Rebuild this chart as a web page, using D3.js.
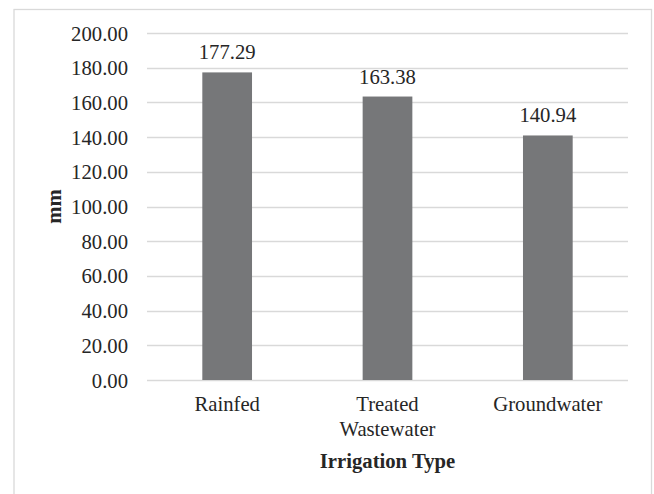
<!DOCTYPE html>
<html>
<head>
<meta charset="utf-8">
<script src="https://cdn.jsdelivr.net/npm/d3@7/dist/d3.min.js"></script>
<style>
  html, body { margin: 0; padding: 0; background: #fff; }
  svg { display: block; }
  text { font-family: "Liberation Serif", "Times New Roman", serif; fill: #262626; }
</style>
</head>
<body>
<svg id="chart" width="654" height="494"></svg>
<script>
// Irrigation types and their values (mm)
const categories = ["Rainfed", "Treated Wastewater", "Groundwater"];
const categoryLines = [["Rainfed"], ["Treated", "Wastewater"], ["Groundwater"]];
const values = [177.29, 163.38, 140.94];
const yTicks = [0, 20, 40, 60, 80, 100, 120, 140, 160, 180, 200];

const svg = d3.select("#chart");
const margin = { left: 147, right: 26, top: 33, bottom: 114 };
const W = 654, H = 494;
const fontSize = "20.7px";

// outer chart border
svg.append("rect")
  .attr("x", 14).attr("y", 9.5)
  .attr("width", 637.5).attr("height", 500)
  .attr("fill", "none").attr("stroke", "#d9d9d9").attr("stroke-width", 1.3);

const x = d3.scaleBand()
  .domain(categories)
  .range([margin.left, W - margin.right])
  .paddingInner(0.69).paddingOuter(0.345);

const y = d3.scaleLinear()
  .domain([0, 200])
  .range([H - margin.bottom, margin.top]);

// horizontal gridlines
svg.append("g")
  .selectAll("line")
  .data(yTicks)
  .join("line")
  .attr("x1", margin.left).attr("x2", W - margin.right)
  .attr("y1", d => Math.round(y(d)) + 0.5).attr("y2", d => Math.round(y(d)) + 0.5)
  .attr("stroke", "#d9d9d9").attr("stroke-width", 1.3);

// y axis labels
const yAxis = d3.axisLeft(y).tickValues(yTicks).tickFormat(d3.format(".2f")).tickSize(0).tickPadding(19);
const gy = svg.append("g").attr("transform", `translate(${margin.left},0)`).call(yAxis);
gy.select(".domain").remove();
gy.selectAll("text")
  .style("font-family", "'Liberation Serif', 'Times New Roman', serif")
  .style("font-size", fontSize).attr("fill", "#262626").attr("dy", "0.34em");

// bars
svg.append("g")
  .selectAll("rect")
  .data(values)
  .join("rect")
  .attr("x", (d, i) => x(categories[i]))
  .attr("y", d => y(d))
  .attr("width", x.bandwidth())
  .attr("height", d => y(0) - y(d))
  .attr("fill", "#767779");

// value labels
svg.append("g")
  .selectAll("text")
  .data(values)
  .join("text")
  .attr("x", (d, i) => x(categories[i]) + x.bandwidth() / 2)
  .attr("y", d => y(d) - 13)
  .attr("text-anchor", "middle")
  .style("font-size", fontSize)
  .text(d => d3.format(".2f")(d));

// category labels (wrapped)
const cat = svg.append("g")
  .selectAll("text")
  .data(categoryLines)
  .join("text")
  .attr("text-anchor", "middle")
  .style("font-size", fontSize)
  .attr("transform", (d, i) => `translate(${x(categories[i]) + x.bandwidth() / 2},${y(0) + 31})`);
cat.selectAll("tspan")
  .data(d => d)
  .join("tspan")
  .attr("x", 0)
  .attr("dy", (d, j) => j === 0 ? 0 : 25)
  .text(d => d);

// axis titles
svg.append("text")
  .attr("x", (margin.left + W - margin.right) / 2)
  .attr("y", 468)
  .attr("text-anchor", "middle")
  .style("font-size", fontSize).style("font-weight", "bold")
  .text("Irrigation Type");

svg.append("text")
  .attr("transform", `translate(61,${(margin.top + H - margin.bottom) / 2}) rotate(-90)`)
  .attr("text-anchor", "middle")
  .style("font-size", fontSize).style("font-weight", "bold")
  .text("mm");
</script>
</body>
</html>
